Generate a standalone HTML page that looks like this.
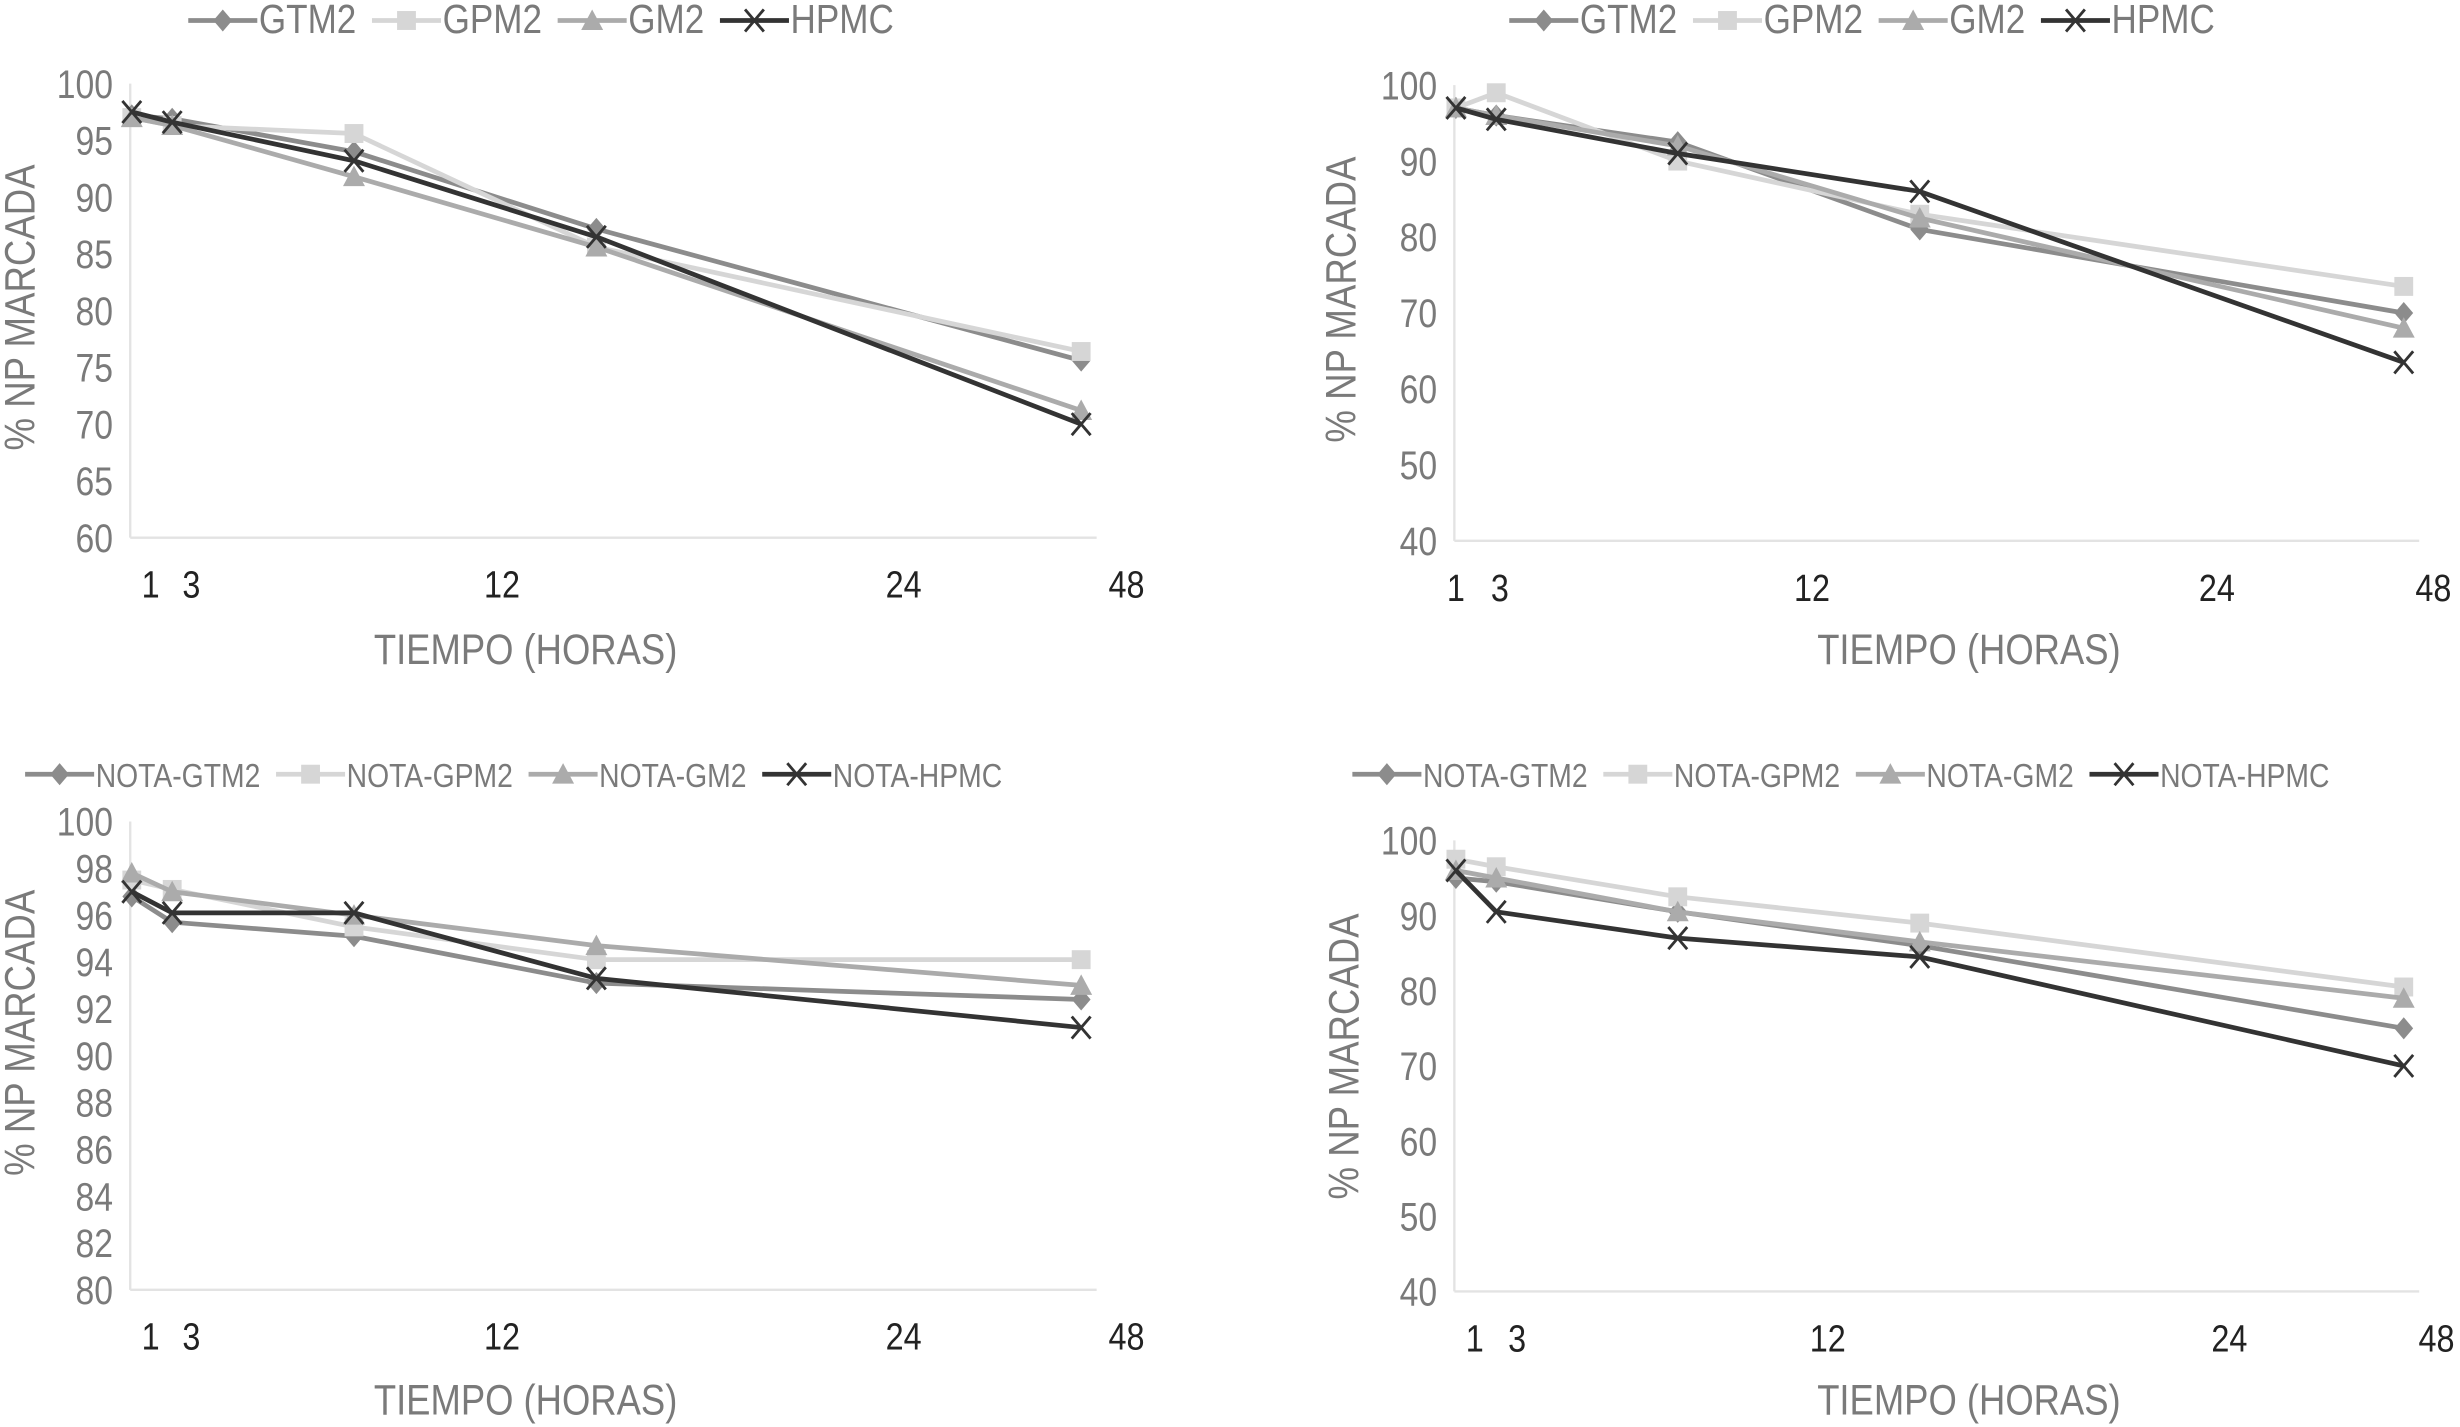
<!DOCTYPE html>
<html><head><meta charset="utf-8"><style>
html,body{margin:0;padding:0;background:#fff}
svg{display:block}
text{font-family:"Liberation Sans",sans-serif}
</style></head><body>
<svg id="root" width="2460" height="1427" viewBox="0 0 1568 905" preserveAspectRatio="none" xmlns="http://www.w3.org/2000/svg"></svg>
<script>
const times = [0, 2, 11, 23, 47];
const xTickLabels = ["1", "3", "12", "24", "48"];
const seriesNamesTop = ["GTM2", "GPM2", "GM2", "HPMC"];
const seriesNamesBottom = ["NOTA-GTM2", "NOTA-GPM2", "NOTA-GM2", "NOTA-HPMC"];
const tlGTM2 = [97.2, 96.9, 94.0, 87.2, 75.6];
const tlGPM2 = [97.0, 96.3, 95.6, 85.6, 76.4];
const tlGM2 = [97.0, 96.3, 91.8, 85.6, 71.2];
const tlHPMC = [97.5, 96.6, 93.2, 86.5, 70.0];
const trGTM2 = [97.0, 96.0, 92.5, 81.0, 70.0];
const trGPM2 = [97.0, 99.0, 90.0, 83.0, 73.5];
const trGM2 = [97.0, 96.0, 92.0, 82.5, 68.0];
const trHPMC = [97.0, 95.5, 91.0, 86.0, 63.5];
const blGTM2 = [96.8, 95.7, 95.1, 93.1, 92.4];
const blGPM2 = [97.5, 97.1, 95.5, 94.1, 94.1];
const blGM2 = [97.8, 97.0, 96.0, 94.7, 93.0];
const blHPMC = [97.0, 96.1, 96.1, 93.3, 91.2];
const brGTM2 = [95.0, 94.5, 90.5, 86.0, 75.0];
const brGPM2 = [97.5, 96.5, 92.5, 89.0, 80.5];
const brGM2 = [96.0, 95.0, 90.5, 86.5, 79.0];
const brHPMC = [96.0, 90.5, 87.0, 84.5, 70.0];
const yTicksA = [60, 65, 70, 75, 80, 85, 90, 95, 100];
const yTicksB = [40, 50, 60, 70, 80, 90, 100];
const yTicksC = [80, 82, 84, 86, 88, 90, 92, 94, 96, 98, 100];

const NS = "http://www.w3.org/2000/svg";
const root = document.getElementById("root");
const colors = ["#8c8c8c", "#d6d6d6", "#ababab", "#333333"];
const markers = ["diamond", "square", "triangle", "x"];
const SX = 0.86;

function mk(tag, attrs, parent) {
  const e = document.createElementNS(NS, tag);
  for (const k in attrs) e.setAttribute(k, attrs[k]);
  (parent || root).appendChild(e);
  return e;
}
function txt(parent, x, y, str, size, fill, anchor, rot) {
  const t = mk("text", {x: 0, y: 0, "text-anchor": anchor || "start", "font-size": size, fill: fill,
    transform: `translate(${x},${y})` + (rot ? " rotate(-90)" : "") + ` scale(${SX},1)`}, parent);
  t.textContent = str;
  return t;
}
function marker(g, type, x, y, c) {
  let e;
  if (type === "diamond") e = mk("polygon", {points: `${x},${y-7} ${x+6},${y} ${x},${y+7} ${x-6},${y}`, fill: c}, g);
  else if (type === "square") e = mk("rect", {x: x-6, y: y-6, width: 12, height: 12, fill: c}, g);
  else if (type === "triangle") e = mk("polygon", {points: `${x},${y-7} ${x+7},${y+6} ${x-7},${y+6}`, fill: c}, g);
  else e = mk("path", {d: `M${x-6},${y-7}L${x+6},${y+7}M${x+6},${y-7}L${x-6},${y+7}`, stroke: c, "stroke-width": 1.8, fill: "none"}, g);
  
  
}

function chart(cfg) {
  const g = mk("g", {});
  
  
  const xs = t => cfg.x0 + (t - 0) / 47.3 * (cfg.x1 - cfg.x0);
  const ys = v => cfg.yb + (v - cfg.ymin) / (cfg.ymax - cfg.ymin) * (cfg.yt - cfg.yb);
  const ax = mk("line", {x1: cfg.x0 - 1, y1: cfg.yt, x2: cfg.x0 - 1, y2: cfg.yb, stroke: "#e3e3e3", "stroke-width": 1.5}, g);
  
  
  const bx = mk("line", {x1: cfg.x0 - 1, y1: cfg.yb, x2: cfg.x1 + 6, y2: cfg.yb, stroke: "#e3e3e3", "stroke-width": 1.5}, g);
  
  
  cfg.yTicks.forEach(v => {
    const t = txt(g, cfg.x0 - 12, ys(v) + 9, String(v), 25, "#7a7a7a", "end");
    
    
  });
  xTickLabels.forEach((l, i) => {
    const t = txt(g, cfg.xl[i], cfg.yb + 38, l, 24, "#222", "middle");
    
    
  });
  const xt = txt(g, cfg.xtx, cfg.xty, "TIEMPO (HORAS)", 27, "#7a7a7a", "middle");
  
  
  const yt = txt(g, cfg.ytx, cfg.yty, "% NP MARCADA", 27, "#7a7a7a", "middle", true);
  
  
  cfg.series.forEach((s, si) => {
    const sg = mk("g", {}, g);
    
    
    const pts = s.map((v, i) => xs(times[i]) + "," + ys(v)).join(" ");
    const pl = mk("polyline", {points: pts, fill: "none", stroke: colors[si], "stroke-width": 3, "stroke-linejoin": "round"}, sg);
    
    
    s.forEach((v, i) => marker(sg, markers[si], xs(times[i]), ys(v), colors[si]));
  });
  const lg = mk("g", {}, g);
  
  
  let lx = cfg.lx;
  cfg.names.forEach((n, si) => {
    const eg = mk("g", {}, lg);
    
    
    mk("line", {x1: lx, y1: cfg.ly, x2: lx + 44, y2: cfg.ly, stroke: colors[si], "stroke-width": 3}, eg);
    marker(eg, markers[si], lx + 22, cfg.ly, colors[si]);
    const t = txt(eg, lx + 45, cfg.ly + 8, n, cfg.lfs, "#7a7a7a", "start");
    lx += 45 + t.getComputedTextLength() * SX + cfg.gap;
  });
}

chart({name: "chart-top-left", x0: 84, x1: 693, yt: 53, yb: 341, ymin: 60, ymax: 100, yTicks: yTicksA,
  xl: [96, 122, 320, 576, 718], xtx: 335, xty: 421, ytx: 22, yty: 195,
  series: [tlGTM2, tlGPM2, tlGM2, tlHPMC], names: seriesNamesTop, lx: 120, ly: 13, lfs: 26, gap: 10});
chart({name: "chart-top-right", x0: 928, x1: 1536, yt: 54, yb: 343, ymin: 40, ymax: 100, yTicks: yTicksB,
  xl: [928, 956, 1155, 1413, 1551], xtx: 1255, xty: 421, ytx: 864, yty: 190,
  series: [trGTM2, trGPM2, trGM2, trHPMC], names: seriesNamesTop, lx: 962, ly: 13, lfs: 26, gap: 10});
chart({name: "chart-bottom-left", x0: 84, x1: 693, yt: 521, yb: 818, ymin: 80, ymax: 100, yTicks: yTicksC,
  xl: [96, 122, 320, 576, 718], xtx: 335, xty: 897, ytx: 22, yty: 655,
  series: [blGTM2, blGPM2, blGM2, blHPMC], names: seriesNamesBottom, lx: 16, ly: 491, lfs: 21, gap: 10});
chart({name: "chart-bottom-right", x0: 928, x1: 1536, yt: 533, yb: 819, ymin: 40, ymax: 100, yTicks: yTicksB,
  xl: [940, 967, 1165, 1421, 1553], xtx: 1255, xty: 897, ytx: 866, yty: 670,
  series: [brGTM2, brGPM2, brGM2, brHPMC], names: seriesNamesBottom, lx: 862, ly: 491, lfs: 21, gap: 10});
</script>
</body></html>
